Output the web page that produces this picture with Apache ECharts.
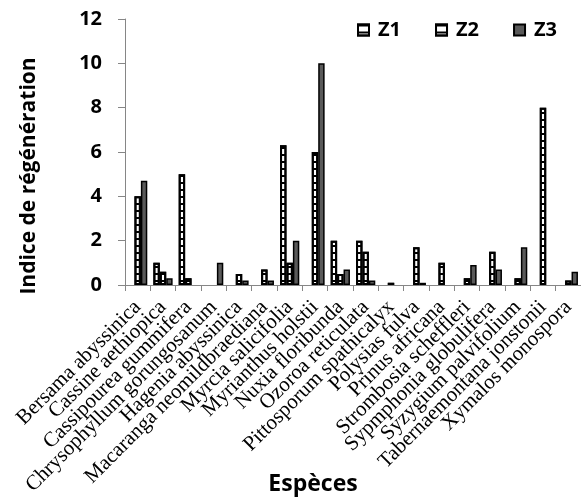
<!DOCTYPE html>
<html>
<head>
<meta charset="utf-8">
<script src="https://cdn.jsdelivr.net/npm/echarts@6/dist/echarts.min.js"></script>
<style>
html,body{margin:0;padding:0;background:#fff;}
#chart{width:581px;height:498px;}
</style>
</head>
<body>
<div id="chart"></div>
<script>
const categories = ["Bersama abyssinica","Cassine aethiopica","Cassipourea gummifera","Chrysophyllum gorungosanum","Hagenia abyssinica","Macaranga neomildbraediana","Myrcia salicifolia","Myrianthus holstii","Nuxia floribunda","Ozoroa reticulata","Pittosporum spathicalyx","Polysias fulva","Prinus africana","Strombosia scheffleri","Sypmphonia globulifera","Syzygium palvifolium","Tabernaemontana jonstonii","Xymalos monospora"];
const seriesNames = ["Z1","Z2","Z3"];
const z1 = [0,1.0,5.0,0,0,0,6.3,0,2.0,2.0,0,0,0,0,0,0,0,0];
const z2 = [4.0,0.6,0.3,0,0.5,0.7,1.0,6.0,0.5,1.5,0.1,1.7,1.0,0.3,1.5,0.3,8.0,0.2];
const z3 = [4.7,0.3,0,1.0,0.2,0.2,2.0,10.0,0.7,0.2,0,0.1,0,0.9,0.7,1.7,0,0.6];
const yTicks = [0,2,4,6,8,10,12];

const toData = arr => arr.map(v => v === 0 ? '-' : v);
const stripe = {symbol:'rect', symbolSize:1, color:'#000', dashArrayX:[1,0], dashArrayY:[2,4.5], rotation:0};

const chart = echarts.init(document.getElementById('chart'), null, {renderer:'canvas'});
chart.setOption({
  animation:false,
  backgroundColor:'#fff',
  grid:{left:125, right:0, top:19, bottom:213, containLabel:false},
  legend:{
    data:seriesNames, left:357, top:20, icon:'rect', itemWidth:11, itemHeight:11, itemGap:34, padding:0,
    textStyle:{fontFamily:'Open Sans', fontWeight:'bold', fontSize:20, color:'#000', padding:[0,0,0,4]}
  },
  xAxis:{
    type:'category', data:categories,
    axisLine:{lineStyle:{color:'#868686', width:1}},
    axisTick:{show:true, length:6, lineStyle:{color:'#868686'}},
    axisLabel:{interval:0, rotate:45, fontFamily:'Liberation Serif', fontSize:21, color:'#000', margin:19}
  },
  yAxis:{
    type:'value', min:yTicks[0], max:yTicks[yTicks.length-1], interval:2,
    splitLine:{show:false},
    axisLine:{show:true, lineStyle:{color:'#868686', width:1}},
    axisTick:{show:true, length:7, lineStyle:{color:'#868686'}},
    axisLabel:{fontFamily:'Open Sans', fontWeight:'bold', fontSize:20, color:'#000', margin:23}
  },
  series:[
    {name:seriesNames[0], type:'bar', data:toData(z1), barGap:'0%', barCategoryGap:'24%',
     itemStyle:{color:'#fff', borderColor:'#000', borderWidth:2, decal:stripe}},
    {name:seriesNames[1], type:'bar', data:toData(z2), barGap:'0%', barCategoryGap:'24%',
     itemStyle:{color:'#fff', borderColor:'#000', borderWidth:2, decal:stripe}},
    {name:seriesNames[2], type:'bar', data:toData(z3), barGap:'0%', barCategoryGap:'24%',
     itemStyle:{color:'#5a5a5a', borderColor:'#000', borderWidth:1.5}}
  ],
  graphic:[
    {type:'text', x:29, y:176, rotation:Math.PI/2,
     style:{text:'Indice de régénération', font:'bold 21px "Open Sans"', fill:'#000', align:'center', verticalAlign:'middle'}},
    {type:'text', x:313, y:484,
     style:{text:'Espèces', font:'bold 23px "Open Sans"', fill:'#000', align:'center', verticalAlign:'middle'}}
  ]
});
</script>
</body>
</html>
